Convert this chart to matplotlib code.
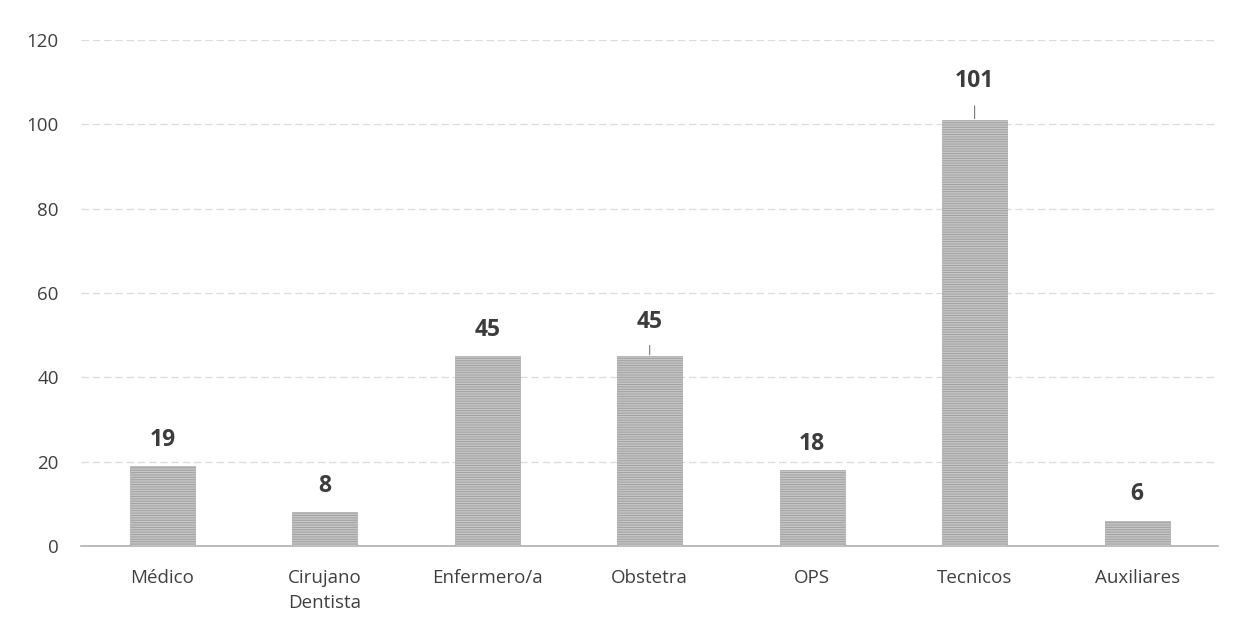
import matplotlib.pyplot as plt

categories = ["Médico", "Cirujano\nDentista", "Enfermero/a", "Obstetra", "OPS", "Tecnicos", "Auxiliares"]
values = [19, 8, 45, 45, 18, 101, 6]
yticks = [0, 20, 40, 60, 80, 100, 120]

plt.rcParams['font.family'] = ['Open Sans', 'DejaVu Sans']
plt.rcParams['hatch.color'] = '#7a7a7a'
plt.rcParams['hatch.linewidth'] = 0.7

fig = plt.figure(figsize=(12.47, 6.34), dpi=100)
ax = fig.add_axes([0.065, 0.139, 0.912, 0.798])

x = range(len(categories))
bars = ax.bar(x, values, width=0.4, color='#c6c6c6', edgecolor='#a0a0a0',
              linewidth=0.4, hatch='-------', zorder=3)

# value labels (Obstetra and Tecnicos have a small leader line in the original)
for i, v in enumerate(values):
    if categories[i] == "Tecnicos":
        ax.annotate(str(v), xy=(i, v), xytext=(i, v + 9.2), ha='center', va='center',
                    fontsize=16.5, fontweight='bold', color='#3c3c3c',
                    arrowprops=dict(arrowstyle='-', color='#777777', lw=0.8,
                                    shrinkA=7, shrinkB=1))
    elif categories[i] == "Obstetra":
        ax.annotate(str(v), xy=(i, v), xytext=(i, v + 8), ha='center', va='center',
                    fontsize=16.5, fontweight='bold', color='#3c3c3c',
                    arrowprops=dict(arrowstyle='-', color='#777777', lw=0.8,
                                    shrinkA=6, shrinkB=1))
    else:
        ax.text(i, v + 6.2, str(v), ha='center', va='center', fontsize=16.5,
                fontweight='bold', color='#3c3c3c')

ax.set_xlim(-0.5, len(categories) - 0.5)
ax.set_ylim(0, 120)
ax.set_yticks(yticks)
ax.set_xticks(list(x))
ax.set_xticklabels(categories, fontsize=13.5, color='#404040', linespacing=1.5)
ax.tick_params(axis='y', labelsize=13.5, colors='#404040', length=0, pad=16)
ax.tick_params(axis='x', length=0, pad=17)
ax.yaxis.grid(True, color='#dcdcdc', linewidth=0.9, linestyle=(0, (6, 3)), zorder=0)
for s in ['top', 'right', 'left']:
    ax.spines[s].set_visible(False)
ax.spines['bottom'].set_color('#b0b0b0')
ax.spines['bottom'].set_linewidth(1.2)

plt.savefig("out.png", dpi=100)
